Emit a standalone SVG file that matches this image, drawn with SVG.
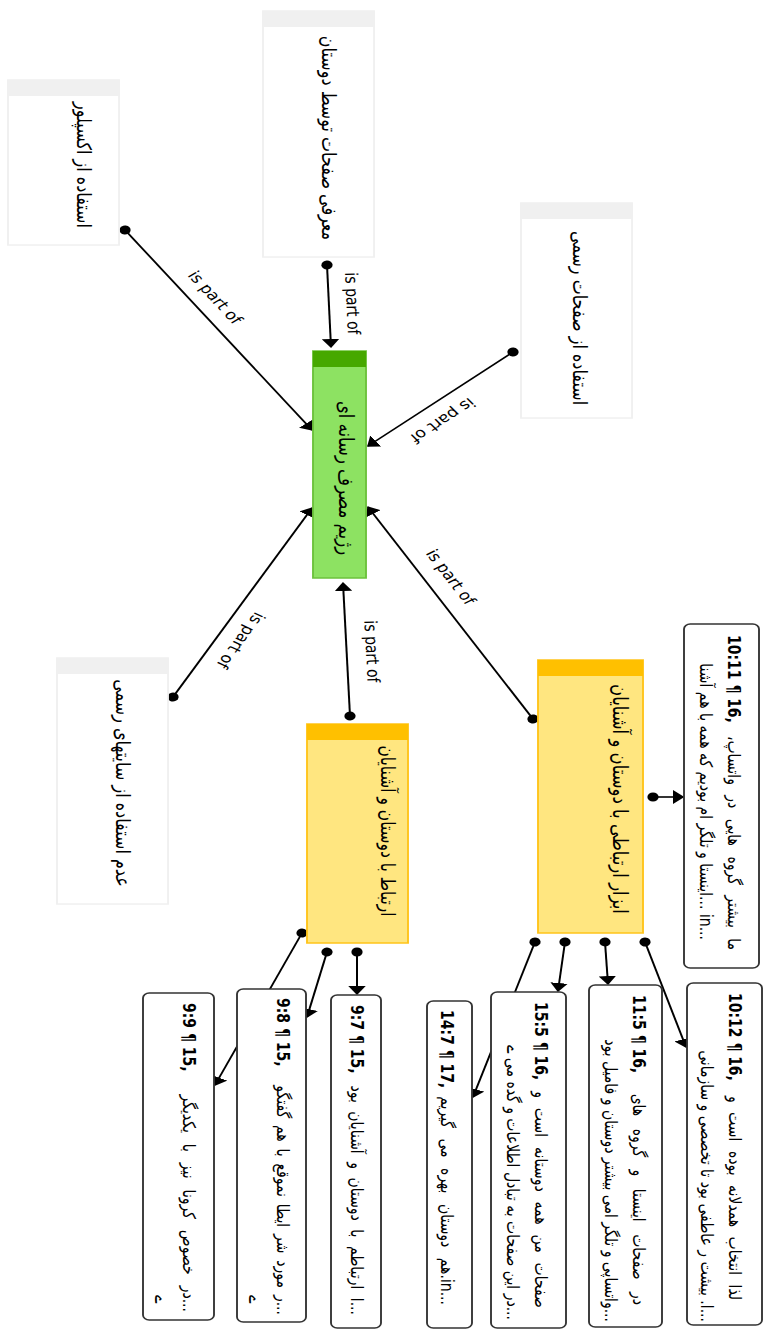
<svg xmlns="http://www.w3.org/2000/svg" width="768" height="1330" viewBox="0 0 768 1330">
<style>
text{font-family:"DejaVu Sans","Noto Sans",sans-serif;fill:#000}
.nt{font-size:16px;direction:rtl;text-anchor:middle}
.nb{font-size:16.5px;direction:rtl;text-anchor:middle}
.lbl{font-size:14px;text-anchor:middle}
.mb{font-size:14px;font-weight:bold;text-anchor:start}
.mt{font-size:14px;direction:rtl;text-anchor:start}
.gbody{fill:#fff;stroke:#f0f0f0;stroke-width:1.5}
.ghead{fill:#f0f0f0}
.grbody{fill:#8de262;stroke:#6cc23c;stroke-width:1.5}
.grhead{fill:#46a800}
.ybody{fill:#ffe680;stroke:#ffc41a;stroke-width:1.5}
.yhead{fill:#ffc000}
.memo{fill:#fff;stroke:#333;stroke-width:1.5}
.con{fill:none;stroke:#000;stroke-width:1.6;marker-start:url(#dot);marker-end:url(#arr)}
</style>
<defs>
<marker id="arr" viewBox="0 -7 9 14" refX="8" refY="0" markerWidth="9" markerHeight="14" markerUnits="userSpaceOnUse" orient="auto"><path d="M0,-7 L9,0 L0,7 Z" fill="#000"/></marker>
<marker id="dot" viewBox="-5 -5 10 10" refX="0" refY="0" markerWidth="10" markerHeight="10" markerUnits="userSpaceOnUse" orient="auto"><circle r="4.5" fill="#000"/></marker>
</defs>
<rect width="768" height="1330" fill="#fff"/>
<g transform="scale(1.25,1)">
<g id="connectors">
<path class="con" d="M100,230 L249.6,430"/>
<path class="con" d="M261.6,265 L264.8,347"/>
<path class="con" d="M410.4,352 L294.4,446"/>
<path class="con" d="M138.4,697 L249.6,508"/>
<path class="con" d="M280,716 L274.4,583"/>
<path class="con" d="M426.4,719 L294.4,507"/>
<path class="con" d="M522.4,797 L546.4,797"/>
<path class="con" d="M516,942 L548.8,1047"/>
<path class="con" d="M484,942 L486.4,984"/>
<path class="con" d="M452,942 L446.4,991"/>
<path class="con" d="M428,942 L378.4,1097"/>
<path class="con" d="M285.6,952 L285.6,994"/>
<path class="con" d="M261.6,952 L245.6,1017"/>
<path class="con" d="M241.6,933 L172,1085"/>
<text class="lbl" transform="translate(171.5,298) rotate(53.2)" y="4">is part of</text>
<text class="lbl" transform="translate(281.2,303.5) rotate(87.8)" y="4">is part of</text>
<text class="lbl" transform="translate(353.6,420) rotate(141)" y="4">is part of</text>
<text class="lbl" transform="translate(192,640) rotate(120.5)" y="4">is part of</text>
<text class="lbl" transform="translate(296.8,651.5) rotate(87.6)" y="4">is part of</text>
<text class="lbl" transform="translate(360,577.5) rotate(58.1)" y="4">is part of</text>
</g>
<g id="n-explore">
<rect class="gbody" x="6.4" y="80" width="88.8" height="165"/>
<rect class="ghead" x="6.4" y="80" width="88.8" height="16"/>
<text class="nt" transform="translate(61.5,165) rotate(90)">استفاده از اکسپلور</text>
</g>
<g id="n-friends-pages">
<rect class="gbody" x="210.4" y="11" width="88.8" height="246"/>
<rect class="ghead" x="210.4" y="11" width="88.8" height="16"/>
<text class="nt" transform="translate(257.5,138) rotate(90)">معرفی صفحات توسط دوستان</text>
</g>
<g id="n-official-pages">
<rect class="gbody" x="416.8" y="203" width="88.8" height="215"/>
<rect class="ghead" x="416.8" y="203" width="88.8" height="16"/>
<text class="nt" transform="translate(458,318) rotate(90)">استفاده از صفحات رسمی</text>
</g>
<g id="n-no-official">
<rect class="gbody" x="45.6" y="658" width="88.8" height="246"/>
<rect class="ghead" x="45.6" y="658" width="88.8" height="16"/>
<text class="nt" transform="translate(92.5,783) rotate(90)">عدم استفاده از سایتهای رسمی</text>
</g>
<g id="n-media-diet">
<rect class="grbody" x="250.4" y="351" width="42.4" height="227"/>
<rect class="grhead" x="250.4" y="351" width="42.4" height="16"/>
<text class="nb" transform="translate(271.5,478) rotate(90)">رژیم مصرف رسانه ای</text>
</g>
<g id="n-contact">
<rect class="ybody" x="245.6" y="724" width="80.8" height="219"/>
<rect class="yhead" x="245.6" y="724" width="80.8" height="16"/>
<text class="nb" style="font-size:15.5px" transform="translate(305,831) rotate(90)">ارتباط با دوستان و آشنایان</text>
</g>
<g id="n-tools">
<rect class="ybody" x="430.4" y="660" width="84" height="273"/>
<rect class="yhead" x="430.4" y="660" width="84" height="16"/>
<text class="nb" transform="translate(490.5,799) rotate(90)">ابزار ارتباطی با دوستان و آشنایان</text>
</g>
<g id="m-10-11">
<rect class="memo" x="547.2" y="624" width="60" height="344" rx="5"/>
<text class="mb" transform="translate(582.4,635) rotate(90)">10:11 ¶ 16,</text>
<text class="mt" style="word-spacing:6px" transform="translate(582.4,950) rotate(90)">ما بیشتر گروه هایی در واتساپ،</text>
<text class="mt" transform="translate(560,940) rotate(90)">...in ...اینستا و تلگر ام بودیم که همه با هم آشنا</text>
</g>
<g id="m-10-12">
<rect class="memo" x="549.6" y="983" width="60" height="342" rx="5"/>
<text class="mb" transform="translate(583.2,993) rotate(90)">10:12 ¶ 16,</text>
<text class="mt" style="word-spacing:5px" transform="translate(583.2,1300) rotate(90)">لذا انتخاب همدلانه بوده است و</text>
<text class="mt" transform="translate(560.8,1322) rotate(90)">...ا. بیشت ر عاطفی بود تا تخصصی و سازمانی</text>
</g>
<g id="m-11-5">
<rect class="memo" x="471.2" y="985" width="58.4" height="342" rx="5"/>
<text class="mb" transform="translate(506.4,995) rotate(90)">11:5 ¶ 16,</text>
<text class="mt" style="word-spacing:8px" transform="translate(506.4,1305) rotate(90)">در صفحات اینستا و گروه های</text>
<text class="mt" transform="translate(484,1322) rotate(90)">...واتساپی و تلگر امی بیشتر دوستان و فامیل بود</text>
</g>
<g id="m-15-5">
<rect class="memo" x="392.8" y="992" width="60" height="336" rx="5"/>
<text class="mb" transform="translate(428,1002) rotate(90)">15:5 ¶ 16,</text>
<text class="mt" style="word-spacing:5.5px" transform="translate(428,1308) rotate(90)">صفحات من همه دوستانه است و</text>
<text class="mt" transform="translate(405.6,1320) rotate(90)">...در این صفحات به تبادل اطلاعات و گده می ے</text>
</g>
<g id="m-14-7">
<rect class="memo" x="341.6" y="1001" width="36" height="327" rx="5"/>
<text class="mb" transform="translate(352.8,1010) rotate(90)">14:7 ¶ 17,</text>
<text class="mt" style="word-spacing:6px" transform="translate(352.8,1305) rotate(90)">...in.هم دوستان بهره می گیریم</text>
</g>
<g id="m-9-7">
<rect class="memo" x="264.8" y="995" width="40" height="333" rx="5"/>
<text class="mb" transform="translate(280.8,1005) rotate(90)">9:7 ¶ 15,</text>
<text class="mt" style="word-spacing:4px" transform="translate(280.8,1315) rotate(90)">...ا ارتباطم با دوستان و آشنایان بود</text>
</g>
<g id="m-9-8">
<rect class="memo" x="189.6" y="989" width="55.2" height="333" rx="5"/>
<text class="mb" transform="translate(221.6,998) rotate(90)">9:8 ¶ 15,</text>
<text class="mt" style="word-spacing:2.4px" transform="translate(221.6,1315) rotate(90)">...ر مورد شر ایطا نموقع با هم گفتگو</text>
<text class="mt" transform="translate(199.2,1303) rotate(90)">ے</text>
</g>
<g id="m-9-9">
<rect class="memo" x="114.4" y="993" width="56.8" height="327" rx="5"/>
<text class="mb" transform="translate(146.4,1003) rotate(90)">9:9 ¶ 15,</text>
<text class="mt" style="word-spacing:6.5px" transform="translate(146.4,1312) rotate(90)">...در خصوص کرونا نیز با یکدیگر</text>
<text class="mt" transform="translate(124,1303) rotate(90)">ے</text>
</g>
</g>
</svg>
